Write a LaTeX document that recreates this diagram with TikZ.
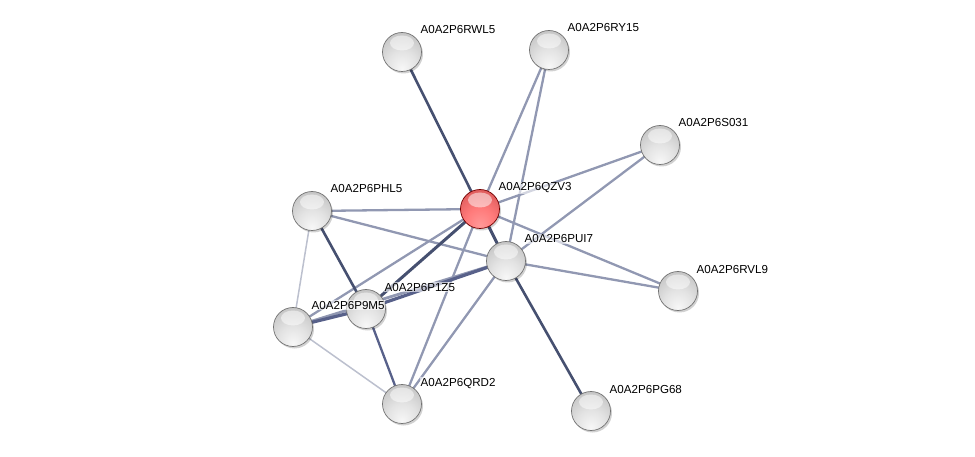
\documentclass[tikz,border=0pt]{standalone}
\usepackage{fontspec}
\setmainfont{Liberation Sans}
\definecolor{edark}{HTML}{465070}
\definecolor{emid}{HTML}{9198B2}
\definecolor{elight}{HTML}{BCC0CE}
\definecolor{ethick}{HTML}{58618A}
\pgfdeclareradialshading{greyball}{\pgfpoint{0bp}{-22bp}}{color(0bp)=(black!3); color(18bp)=(black!11); color(40bp)=(black!25); color(60bp)=(black!36); color(76bp)=(black!48)}
\pgfdeclareradialshading{redball}{\pgfpoint{0bp}{-22bp}}{color(0bp)=(red!40!white); color(18bp)=(red!52!white); color(40bp)=(red!60!white!85!black); color(60bp)=(red!62!white!75!black); color(76bp)=(red!65!black!85)}
\tikzset{
  ballbase/.style={circle, minimum size=39pt, inner sep=0pt, line width=0.7pt,
    path picture={\fill[white, opacity=0.5]
      ([yshift=9pt]path picture bounding box.center) ellipse (12pt and 7.5pt);}},
  prot/.style={ballbase, shading=greyball, draw=black!55},
  qprot/.style={ballbase, shading=redball, draw=red!45!black},
  shadow/.style={circle, minimum size=39pt, inner sep=0pt, fill=black, opacity=0.18},
  lbl/.style={anchor=base west, font=\fontsize{11.6}{13}\selectfont, text=black, inner sep=0.5pt, fill=white, fill opacity=0.6, text opacity=1},
  edgedark/.style={draw=edark, line width=2.6pt},
  edgemid/.style={draw=emid, line width=2.3pt},
  edgelight/.style={draw=elight, line width=1.5pt},
  edgethick/.style={draw=ethick, line width=3.2pt},
}
\begin{document}
\begin{tikzpicture}[x=1pt,y=-1pt]
\useasboundingbox (0,0) rectangle (975,457);
% node positions
\coordinate (cQZV3) at (480,209);
\coordinate (cRWL5) at (402,52);
\coordinate (cRY15) at (549,50);
\coordinate (cS031) at (660,145);
\coordinate (cPHL5) at (312,211);
\coordinate (cPUI7) at (506,261);
\coordinate (cRVL9) at (678,291);
\coordinate (cP1Z5) at (366,309);
\coordinate (cP9M5) at (293,327);
\coordinate (cQRD2) at (402,404);
\coordinate (cPG68) at (591,411);
% edges
\draw[edgemid] (cRY15) -- (cQZV3);
\draw[edgemid] (cRY15) -- (cPUI7);
\draw[edgemid] (cS031) -- (cQZV3);
\draw[edgemid] (cS031) -- (cPUI7);
\draw[edgemid] (cPHL5) -- (cQZV3);
\draw[edgemid] (cPHL5) -- (cPUI7);
\draw[edgemid] (cQZV3) -- (cRVL9);
\draw[edgemid] (cPUI7) -- (cRVL9);
\draw[edgemid] (cQZV3) -- (cQRD2);
\draw[edgemid] (cPUI7) -- (cQRD2);
\draw[edgemid] (cQZV3) -- (cP9M5);
\draw[edgelight] (cPHL5) -- (cP9M5);
\draw[edgelight] (cP9M5) -- (cQRD2);
\draw[edgemid, line width=2.8pt] (cP9M5) -- (cPUI7);
\draw[edgethick] (cP9M5) -- (cP1Z5);
\draw[edgethick] (cP1Z5) -- (cPUI7);
\draw[edgedark, draw=ethick, line width=2.3pt] (cP1Z5) -- (cQRD2);
\draw[edgedark] (cPHL5) -- (cP1Z5);
\draw[edgedark, line width=3pt] (cQZV3) -- (cP1Z5);
\draw[edgedark] (cRWL5) -- (cQZV3);
\draw[edgedark, line width=3pt] (cQZV3) -- (cPUI7);
\draw[edgedark] (cPUI7) -- (cPG68);
% shadows
\foreach \c in {cQZV3,cRWL5,cRY15,cS031,cPHL5,cPUI7,cRVL9,cP1Z5,cP9M5,cQRD2,cPG68}
  \node[shadow] at ([shift={(1.5,2)}]\c) {};
% nodes
\node[qprot] (QZV3) at (cQZV3) {};
\node[prot] (RWL5) at (cRWL5) {};
\node[prot] (RY15) at (cRY15) {};
\node[prot] (S031) at (cS031) {};
\node[prot] (PHL5) at (cPHL5) {};
\node[prot] (PUI7) at (cPUI7) {};
\node[prot] (RVL9) at (cRVL9) {};
\node[prot] (P1Z5) at (cP1Z5) {};
\node[prot] (P9M5) at (cP9M5) {};
\node[prot] (QRD2) at (cQRD2) {};
\node[prot] (PG68) at (cPG68) {};
% labels
\node[lbl] (tQZV3) at ([shift={(18,-18)}]cQZV3) {A0A2P6QZV3};
\node[lbl] (tRWL5) at ([shift={(18,-18)}]cRWL5) {A0A2P6RWL5};
\node[lbl] (tRY15) at ([shift={(18,-18)}]cRY15) {A0A2P6RY15};
\node[lbl] (tS031) at ([shift={(18,-18)}]cS031) {A0A2P6S031};
\node[lbl] (tPHL5) at ([shift={(18,-18)}]cPHL5) {A0A2P6PHL5};
\node[lbl] (tPUI7) at ([shift={(18,-18)}]cPUI7) {A0A2P6PUI7};
\node[lbl] (tRVL9) at ([shift={(18,-18)}]cRVL9) {A0A2P6RVL9};
\node[lbl] (tP1Z5) at ([shift={(18,-18)}]cP1Z5) {A0A2P6P1Z5};
\node[lbl] (tP9M5) at ([shift={(18,-18)}]cP9M5) {A0A2P6P9M5};
\node[lbl] (tQRD2) at ([shift={(18,-18)}]cQRD2) {A0A2P6QRD2};
\node[lbl] (tPG68) at ([shift={(18,-18)}]cPG68) {A0A2P6PG68};
\end{tikzpicture}
\end{document}
